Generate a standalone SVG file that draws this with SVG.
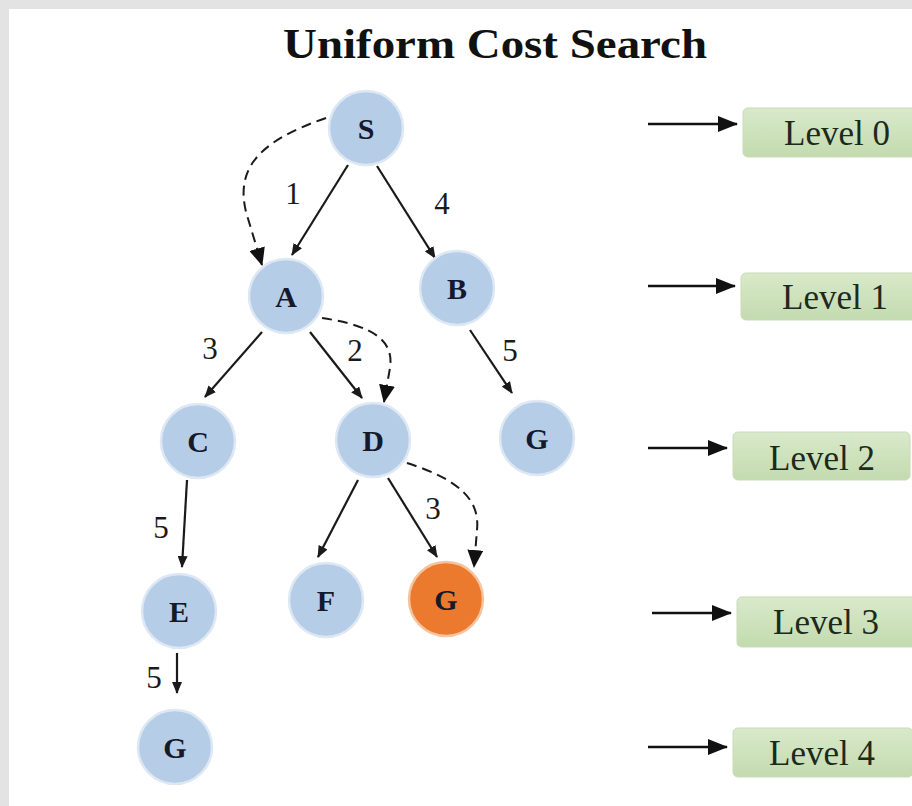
<svg xmlns="http://www.w3.org/2000/svg" width="912" height="806" viewBox="0 0 912 806">
  <defs>
    <style>
      .title { font-family: "Liberation Serif", "Times New Roman", serif; font-weight: bold; font-size: 42px; fill: #111; }
      .node circle { fill: #b6cde7; stroke: #dde8f4; stroke-width: 2.5; }
      .node.goal circle { fill: #ec7a2e; stroke: #f6c49c; }
      .node text { font-family: "Liberation Serif", "Times New Roman", serif; font-weight: bold; font-size: 30px; fill: #15192b; text-anchor: middle; }
      .edge { fill: none; stroke: #1a1a1a; stroke-width: 2.2; marker-end: url(#tip); }
      .trace { fill: none; stroke: #1a1a1a; stroke-width: 2; stroke-dasharray: 10 6; marker-end: url(#bigTip); }
      .cost { font-family: "Liberation Serif", "Times New Roman", serif; font-size: 31px; fill: #1a1a1a; text-anchor: middle; }
      .level rect { fill: url(#levelFill); stroke: #c9dbb8; stroke-width: 1; }
      .level text { font-family: "Liberation Serif", "Times New Roman", serif; font-size: 35px; fill: #1c2a1c; text-anchor: middle; }
      .pointer { stroke: #111; stroke-width: 2.5; marker-end: url(#pointerTip); }
    </style>
    <linearGradient id="levelFill" x1="0" y1="0" x2="0" y2="1">
      <stop offset="0" stop-color="#d9e9ca"/>
      <stop offset="1" stop-color="#c3dbaf"/>
    </linearGradient>
    <marker id="tip" markerUnits="userSpaceOnUse" markerWidth="12" markerHeight="10" refX="11" refY="5" orient="auto">
      <path d="M0,0 L12,5 L0,10 Z" fill="#1a1a1a"/>
    </marker>
    <marker id="bigTip" markerUnits="userSpaceOnUse" markerWidth="18" markerHeight="16" refX="17" refY="8" orient="auto">
      <path d="M0,0 L18,8 L0,16 Z" fill="#111"/>
    </marker>
    <marker id="pointerTip" markerUnits="userSpaceOnUse" markerWidth="20" markerHeight="16" refX="19" refY="8" orient="auto">
      <path d="M0,0 L20,8 L0,16 Z" fill="#111"/>
    </marker>
  </defs>

  <!-- page and grey frame edges -->
  <rect x="0" y="0" width="912" height="806" fill="#ffffff"/>
  <rect x="0" y="0" width="912" height="9" fill="#e3e3e3"/>
  <rect x="0" y="0" width="9" height="806" fill="#e3e3e3"/>

  <text class="title" x="283" y="58" textLength="424" lengthAdjust="spacingAndGlyphs">Uniform Cost Search</text>

  <!-- tree edges, cost labels and the traced search path -->
  <g id="connectors">
    <line class="edge" x1="348" y1="165" x2="292" y2="255"/>
    <line class="edge" x1="377" y1="166" x2="435" y2="258"/>
    <line class="edge" x1="262" y1="332" x2="205" y2="397"/>
    <line class="edge" x1="310" y1="332" x2="362" y2="398"/>
    <line class="edge" x1="470" y1="330" x2="512" y2="393"/>
    <line class="edge" x1="187" y1="480" x2="182" y2="567"/>
    <line class="edge" x1="358" y1="480" x2="318" y2="557"/>
    <line class="edge" x1="388" y1="478" x2="437" y2="557"/>
    <line class="edge" x1="177" y1="653" x2="177" y2="693"/>

    <path class="trace" d="M326,118 C256,142 236,170 246,212 L262,265"/>
    <path class="trace" d="M322,318 C376,326 394,342 390,368 L384,402"/>
    <path class="trace" d="M407,463 C460,480 480,500 477,530 L474,567"/>

    <text class="cost" x="293" y="204">1</text>
    <text class="cost" x="442" y="214">4</text>
    <text class="cost" x="210" y="359">3</text>
    <text class="cost" x="355" y="361">2</text>
    <text class="cost" x="510" y="361">5</text>
    <text class="cost" x="161" y="538">5</text>
    <text class="cost" x="433" y="519">3</text>
    <text class="cost" x="154" y="688">5</text>
  </g>

  <!-- tree nodes -->
  <g id="node-S" class="node"><circle cx="366" cy="128" r="37"/><text x="366" y="139">S</text></g>
  <g id="node-A" class="node"><circle cx="286" cy="296" r="37"/><text x="286" y="307">A</text></g>
  <g id="node-B" class="node"><circle cx="457" cy="288" r="37"/><text x="457" y="299">B</text></g>
  <g id="node-C" class="node"><circle cx="198" cy="441" r="37"/><text x="198" y="452">C</text></g>
  <g id="node-D" class="node"><circle cx="373" cy="440" r="37"/><text x="373" y="451">D</text></g>
  <g id="node-G1" class="node"><circle cx="537" cy="438" r="37"/><text x="537" y="449">G</text></g>
  <g id="node-E" class="node"><circle cx="179" cy="611" r="37"/><text x="179" y="622">E</text></g>
  <g id="node-F" class="node"><circle cx="326" cy="600" r="37"/><text x="326" y="611">F</text></g>
  <g id="node-G2" class="node goal"><circle cx="446" cy="599" r="37"/><text x="446" y="610">G</text></g>
  <g id="node-G3" class="node"><circle cx="175" cy="747" r="37"/><text x="175" y="758">G</text></g>

  <!-- level indicators -->
  <g id="level-0" class="level">
    <line class="pointer" x1="648" y1="124" x2="737" y2="124"/>
    <rect x="743" y="108" width="180" height="49" rx="5"/>
    <text x="837" y="145">Level 0</text>
  </g>
  <g id="level-1" class="level">
    <line class="pointer" x1="648" y1="286" x2="735" y2="286"/>
    <rect x="741" y="273" width="180" height="47" rx="5"/>
    <text x="835" y="309">Level 1</text>
  </g>
  <g id="level-2" class="level">
    <line class="pointer" x1="648" y1="448" x2="727" y2="448"/>
    <rect x="733" y="432" width="177" height="48" rx="5"/>
    <text x="822" y="470">Level 2</text>
  </g>
  <g id="level-3" class="level">
    <line class="pointer" x1="652" y1="613" x2="731" y2="613"/>
    <rect x="737" y="597" width="180" height="50" rx="5"/>
    <text x="826" y="634">Level 3</text>
  </g>
  <g id="level-4" class="level">
    <line class="pointer" x1="648" y1="747" x2="727" y2="747"/>
    <rect x="733" y="728" width="180" height="49" rx="5"/>
    <text x="822" y="765">Level 4</text>
  </g>
</svg>
